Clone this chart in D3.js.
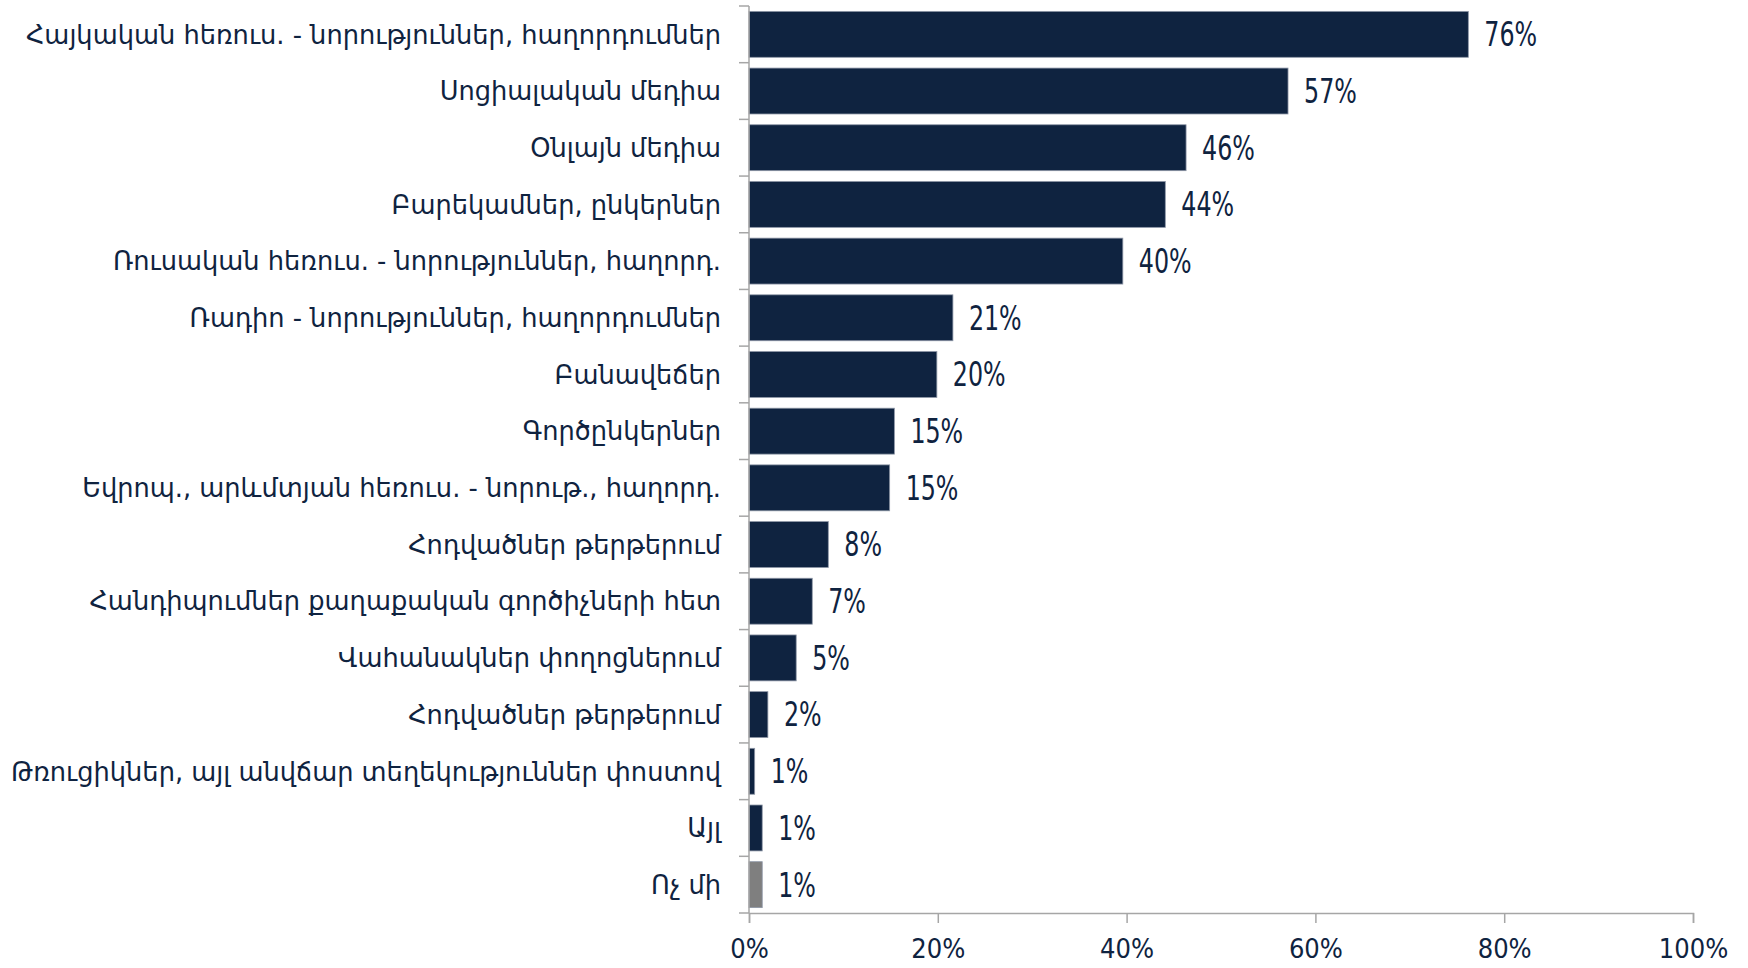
<!DOCTYPE html>
<html>
<head>
<meta charset="utf-8">
<script src="https://cdn.jsdelivr.net/npm/d3@7"></script>
<style>
  html, body { margin: 0; padding: 0; background: #fff; }
  svg { display: block; }
</style>
</head>
<body>
<svg id="chart" width="1748" height="968"></svg>
<script>
const categories = [
  "Հայկական հեռուս. - նորություններ, հաղորդումներ",
  "Սոցիալական մեդիա",
  "Օնլայն մեդիա",
  "Բարեկամներ, ընկերներ",
  "Ռուսական հեռուս. - նորություններ, հաղորդ.",
  "Ռադիո - նորություններ, հաղորդումներ",
  "Բանավեճեր",
  "Գործընկերներ",
  "Եվրոպ., արևմտյան հեռուս. - նորութ., հաղորդ.",
  "Հոդվածներ թերթերում",
  "Հանդիպումներ քաղաքական գործիչների հետ",
  "Վահանակներ փողոցներում",
  "Հոդվածներ թերթերում",
  "Թռուցիկներ, այլ անվճար տեղեկություններ փոստով",
  "Այլ",
  "Ոչ մի"
];
const values = [76.2, 57.1, 46.3, 44.1, 39.6, 21.6, 19.9, 15.4, 14.9, 8.4, 6.7, 5.0, 2.0, 0.6, 1.4, 1.4];
const valueLabels = ["76%", "57%", "46%", "44%", "40%", "21%", "20%", "15%", "15%", "8%", "7%", "5%", "2%", "1%", "1%", "1%"];
const barColors = ["#0f2340", "#0f2340", "#0f2340", "#0f2340", "#0f2340", "#0f2340", "#0f2340", "#0f2340",
                   "#0f2340", "#0f2340", "#0f2340", "#0f2340", "#0f2340", "#0f2340", "#0f2340", "#7f7f7f"];
const xTicks = [0, 20, 40, 60, 80, 100];
const xTickLabels = ["0%", "20%", "40%", "60%", "80%", "100%"];

(function () {
const svg = d3.select("#chart");
const mLeft = 749, mRight = 1693, mTop = 6, mBottom = 913;
const textColor = "#0f2340";
const axisColor = "#a6a6a6";
const numFont = "'DejaVu Sans Condensed', 'DejaVu Sans', sans-serif";
const labFont = "'DejaVu Sans', sans-serif";

const x = d3.scaleLinear().domain([0, 100]).range([mLeft, mRight]);
const idx = d3.range(categories.length);
const y = d3.scaleBand().domain(idx).range([mTop, mBottom]).paddingInner(0.19).paddingOuter(0.095);

// bars
svg.append("g").selectAll("rect").data(idx).join("rect")
  .attr("x", x(0))
  .attr("y", i => y(i))
  .attr("width", i => x(values[i]) - x(0))
  .attr("height", y.bandwidth())
  .attr("fill", i => barColors[i])
  .attr("stroke", "#8d96a6")
  .attr("stroke-width", 0.8);

// value labels (horizontally compressed to mimic the narrow numeral face)
svg.append("g").selectAll("text").data(idx).join("text")
  .attr("transform", i => `translate(${x(values[i]) + 16},${y(i) + y.bandwidth() / 2}) scale(0.8,1)`)
  .attr("dy", "0.36em")
  .attr("font-family", numFont)
  .attr("font-size", 33)
  .attr("fill", textColor)
  .text(i => valueLabels[i]);

// category labels
svg.append("g").selectAll("text").data(idx).join("text")
  .attr("x", mLeft - 28)
  .attr("y", i => y(i) + y.bandwidth() / 2)
  .attr("dy", "0.36em")
  .attr("text-anchor", "end")
  .attr("font-family", labFont)
  .attr("font-size", 25.7)
  .attr("fill", textColor)
  .text(i => categories[i]);

// left axis line and category boundary ticks
svg.append("line")
  .attr("x1", mLeft).attr("x2", mLeft).attr("y1", mTop).attr("y2", mBottom)
  .attr("stroke", axisColor).attr("stroke-width", 1.5);
svg.append("g").selectAll("line").data(d3.range(categories.length + 1)).join("line")
  .attr("x1", mLeft - 10).attr("x2", mLeft)
  .attr("y1", k => mTop + k * y.step())
  .attr("y2", k => mTop + k * y.step())
  .attr("stroke", axisColor).attr("stroke-width", 1.5);

// bottom axis
const xAxis = d3.axisBottom(x).tickValues(xTicks)
  .tickFormat((d, i) => xTickLabels[i]).tickSize(10).tickPadding(16);
const gx = svg.append("g").attr("transform", `translate(0,${mBottom})`).call(xAxis);
gx.select(".domain").attr("stroke", axisColor).attr("stroke-width", 1.5);
gx.selectAll(".tick line").attr("stroke", axisColor).attr("stroke-width", 1.5);
gx.selectAll(".tick text")
  .attr("font-family", numFont)
  .attr("font-size", 27)
  .attr("fill", textColor);
})();
</script>
</body>
</html>
